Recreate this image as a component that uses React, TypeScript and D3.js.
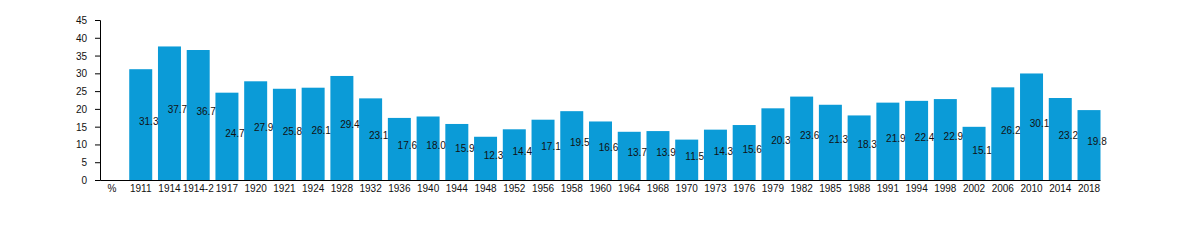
import React from "react";
import * as d3 from "d3";

const categories = ["%", "1911", "1914", "1914-2", "1917", "1920", "1921", "1924", "1928", "1932", "1936", "1940", "1944", "1948", "1952", "1956", "1958", "1960", "1964", "1968", "1970", "1973", "1976", "1979", "1982", "1985", "1988", "1991", "1994", "1998", "2002", "2006", "2010", "2014", "2018"];
const values: (number | null)[] = [null, 31.3, 37.7, 36.7, 24.7, 27.9, 25.8, 26.1, 29.4, 23.1, 17.6, 18.0, 15.9, 12.3, 14.4, 17.1, 19.5, 16.6, 13.7, 13.9, 11.5, 14.3, 15.6, 20.3, 23.6, 21.3, 18.3, 21.9, 22.4, 22.9, 15.1, 26.2, 30.1, 23.2, 19.8];
const yTicks = [0, 5, 10, 15, 20, 25, 30, 35, 40, 45];

const W = 1200;
const H = 240;
const FONT = "'Liberation Sans', Arial, sans-serif";
const BAR = "#0b9bd7";

export default function App() {
  const x = d3.scaleBand<string>().domain(categories).range([100.5, 1100.5]).paddingInner(0.2).paddingOuter(0);
  const y = d3.scaleLinear().domain([0, 45]).range([180.5, 20.5]);
  const bw = x.bandwidth();
  return (
    <svg width={W} height={H} style={{ position: "absolute", left: 0, top: 0, background: "#fff" }} fontFamily={FONT}>
      {categories.map((c, i) => {
        const v = values[i];
        if (v == null) return null;
        const x0 = x(c)!;
        return (
          <rect key={"b" + c} x={x0} y={y(v)} width={bw} height={y(0) - y(v)} fill={BAR} />
        );
      })}
      {categories.map((c, i) => {
        const v = values[i];
        if (v == null) return null;
        const cx = x(c)! + bw / 2 + 8;
        return (
          <text key={"l" + c} x={cx} y={y(v / 2)} fontSize={10} textAnchor="middle" fill="#111">
            {v.toFixed(1)}
          </text>
        );
      })}
      {/* y axis */}
      <line x1={100.5} x2={100.5} y1={y(45)} y2={y(0)} stroke="#000" strokeWidth={1} />
      {yTicks.map((t) => (
        <g key={"t" + t}>
          <line x1={95} x2={100.5} y1={y(t)} y2={y(t)} stroke="#000" strokeWidth={1} />
          <text x={87} y={y(t)} dy="0.35em" fontSize={10} textAnchor="end" fill="#111">
            {t}
          </text>
        </g>
      ))}
      {/* x axis */}
      <line x1={100.5} x2={1100.5} y1={y(0)} y2={y(0)} stroke="#000" strokeWidth={1} />
      {categories.map((c) => (
        <text key={"x" + c} x={x(c)! + bw / 2} y={191.5} fontSize={10} textAnchor="middle" fill="#111">
          {c}
        </text>
      ))}
    </svg>
  );
}
